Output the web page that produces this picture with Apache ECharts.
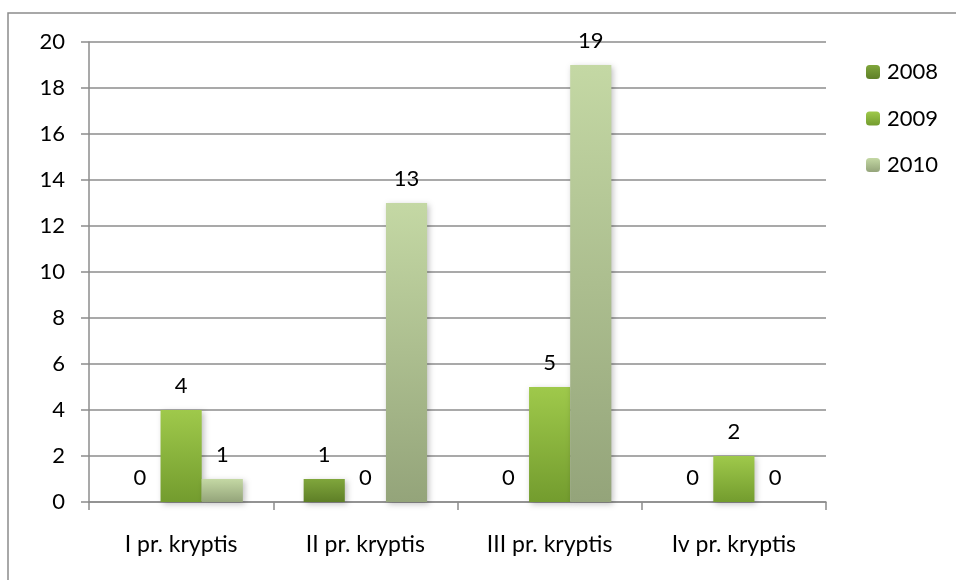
<!DOCTYPE html>
<html><head><meta charset="utf-8">
<script src="https://cdn.jsdelivr.net/npm/echarts@6/dist/echarts.min.js"></script>
<style>html,body{margin:0;padding:0;background:#fff}#c{width:956px;height:580px}</style>
</head><body><div id="c"></div>
<script>
const categories = ['I pr. kryptis', 'II pr. kryptis', 'III pr. kryptis', 'Iv pr. kryptis'];
const s2008 = [0, 1, 0, 0];
const s2009 = [4, 0, 5, 2];
const s2010 = [1, 13, 19, 0];
const seriesNames = ['2008', '2009', '2010'];

const FONT = 'Lato';
function grad(top, bottom) {
  return new echarts.graphic.LinearGradient(0, 0, 0, 1, [{offset: 0, color: top}, {offset: 1, color: bottom}]);
}
const colors = [grad('#80a63c', '#5e7f27'), grad('#9fc94b', '#739c2e'), grad('#c4d8a4', '#94a47a')];
const data = [s2008, s2009, s2010];

const chart = echarts.init(document.getElementById('c'));
chart.setOption({
  animation: false,
  graphic: [{type: 'rect', shape: {x: 8, y: 13, width: 1000, height: 700}, style: {fill: 'none', stroke: '#8c8c8c', lineWidth: 1.5}}],
  grid: {left: 89, right: 130, top: 42, bottom: 78},
  legend: {
    orient: 'vertical', left: 866, top: 61, padding: 0, itemWidth: 14, itemHeight: 14, itemGap: 24.5,
    textStyle: {fontFamily: FONT, fontSize: 22, lineHeight: 22, color: '#000', padding: [0, 0, 0, 2]},
    data: seriesNames
  },
  xAxis: {
    type: 'category', data: categories,
    axisLine: {lineStyle: {color: '#8c8c8c', width: 1.5}},
    axisTick: {show: true, length: 8, lineStyle: {color: '#8c8c8c', width: 1.5}},
    axisLabel: {fontFamily: FONT, fontSize: 23, color: '#000', margin: 31}
  },
  yAxis: {
    type: 'value', min: 0, max: 20, interval: 2,
    axisLine: {show: true, lineStyle: {color: '#8c8c8c', width: 1.5}},
    axisTick: {show: true, length: 8, lineStyle: {color: '#8c8c8c', width: 1.5}},
    splitLine: {lineStyle: {color: '#8c8c8c', width: 1.5}},
    axisLabel: {fontFamily: FONT, fontSize: 22, color: '#000', margin: 24}
  },
  series: seriesNames.map((n, i) => ({
    name: n, type: 'bar', data: data[i], barGap: '0%', barCategoryGap: '33%',
    itemStyle: {color: colors[i], shadowBlur: 6, shadowColor: 'rgba(0,0,0,0.25)', shadowOffsetX: 2, shadowOffsetY: 2},
    label: {show: true, position: 'top', distance: 13, fontFamily: FONT, fontSize: 22, color: '#000'}
  }))
});
</script></body></html>
